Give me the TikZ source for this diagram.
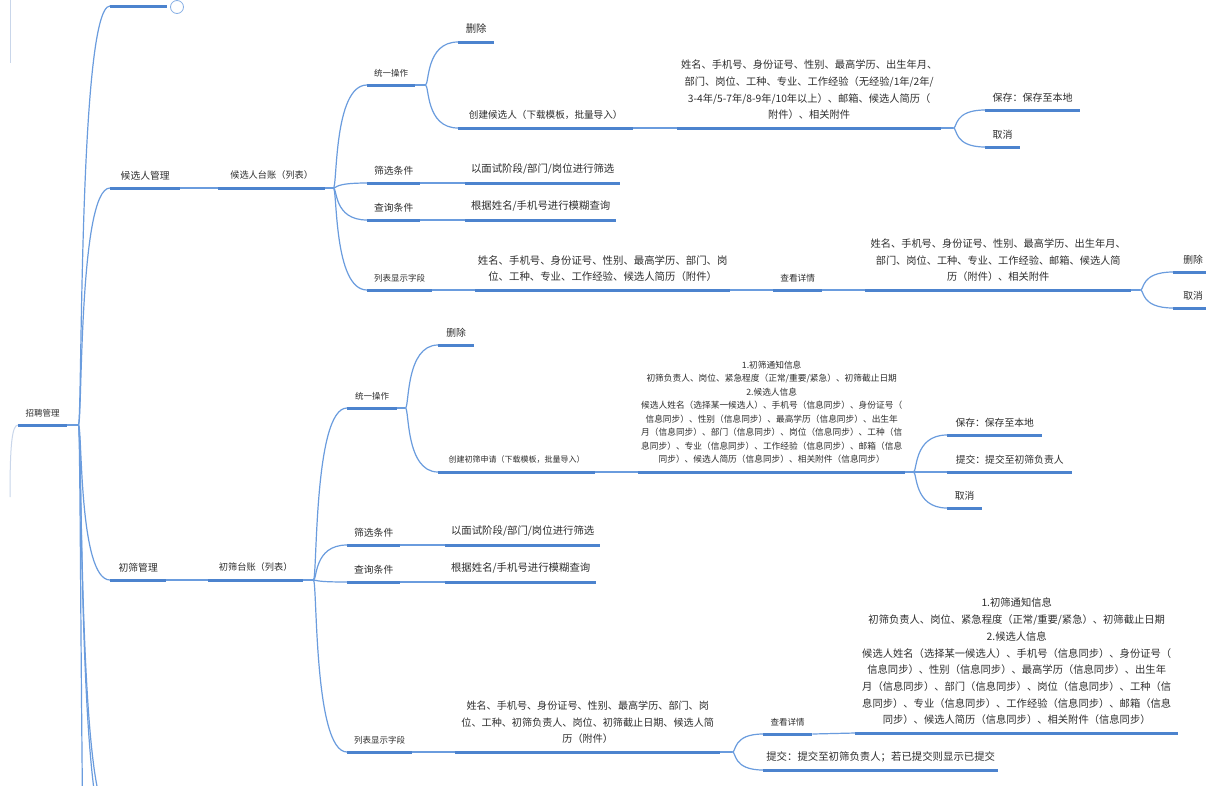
\documentclass[tikz,border=0pt]{standalone}
\usepackage{fontspec}
\setmainfont{Noto Sans CJK SC}
\usetikzlibrary{calc}
\definecolor{uline}{HTML}{4C83CE}
\definecolor{cline}{HTML}{6A9CDE}
\definecolor{txt}{HTML}{2E2E2E}
\definecolor{faint}{HTML}{C9D6EA}
\tikzset{
  topic/.style={anchor=south west, inner xsep=0pt, inner ysep=8pt, align=center, text=txt},
  fa/.style={font=\fontsize{10.4}{16.7}\selectfont},
  fb/.style={font=\fontsize{9.8}{15.6}\selectfont},
  fe/.style={font=\fontsize{9.2}{15}\selectfont},
  fc/.style={font=\fontsize{8.5}{13.5}\selectfont},
  fd/.style={font=\fontsize{8.7}{13.5}\selectfont},
  ul/.style={draw=uline, line width=3pt},
  conn/.style={draw=cline, line width=1.2pt},
  faintl/.style={draw=faint, line width=1pt},
  br/.style={to path={.. controls +(4,0) and (\tikztostart |- \tikztotarget) .. (\tikztotarget)}},
}
\begin{document}
\begin{tikzpicture}[x=1pt,y=-1pt]
\useasboundingbox (0,0) rectangle (1206,785);
\fill[white] (0,0) rectangle (1206,785);
\clip (0,0) rectangle (1206,785);

% ---------- nodes ----------
\node[topic,fc,minimum width=49] (r) at (18,425) {招聘管理};
\node[topic,fb,minimum width=70] (a1) at (110,188) {候选人管理};
\node[topic,fb,minimum width=56] (a2) at (110,580) {初筛管理};

% candidate section
\node[topic,fe,minimum width=107] (b1) at (218,188) {候选人台账（列表）};
\node[topic,fc,minimum width=48] (c1) at (367,85) {统一操作};
\node[topic,fb,minimum width=53] (c2) at (367,183) {筛选条件};
\node[topic,fb,minimum width=53] (c3) at (367,220) {查询条件};
\node[topic,fc,minimum width=65] (c4) at (367,290) {列表显示字段};
\node[topic,fa,minimum width=36] (d1) at (458,42) {删除};
\node[topic,font=\fontsize{9.6}{15}\selectfont,minimum width=175] (d2) at (458,128) {创建候选人（下载模板，批量导入）};
\node[topic,font=\fontsize{10.25}{16.7}\selectfont,minimum width=264] (e1) at (677,128)
  {姓名、手机号、身份证号、性别、最高学历、出生年月、\\部门、岗位、工种、专业、工作经验（无经验/1年/2年/\\3-4年/5-7年/8-9年/10年以上）、邮箱、候选人简历（\\附件）、相关附件};
\node[topic,font=\fontsize{10}{15}\selectfont,minimum width=95] (f1) at (985,110) {保存：保存至本地};
\node[topic,font=\fontsize{10}{15}\selectfont,minimum width=35] (f2) at (985,147) {取消};
\node[topic,fa,minimum width=155] (d3) at (465,183) {以面试阶段/部门/岗位进行筛选};
\node[topic,fa,minimum width=151] (d4) at (465,220) {根据姓名/手机号进行模糊查询};
\node[topic,fa,minimum width=255] (d5) at (475,290)
  {姓名、手机号、身份证号、性别、最高学历、部门、岗\\位、工种、专业、工作经验、候选人简历（附件）};
\node[topic,fd,minimum width=49] (g1) at (773,290) {查看详情};
\node[topic,font=\fontsize{10.2}{16.7}\selectfont,minimum width=266] (g2) at (865,290)
  {姓名、手机号、身份证号、性别、最高学历、出生年月、\\部门、岗位、工种、专业、工作经验、邮箱、候选人简\\历（附件）、相关附件};
\node[topic,fb,minimum width=40] (h1) at (1173,272) {删除};
\node[topic,fb,minimum width=40] (h2) at (1173,308) {取消};

% screening section
\node[topic,fe,minimum width=95] (b2) at (208,580) {初筛台账（列表）};
\node[topic,fc,minimum width=50] (c5) at (347,408) {统一操作};
\node[topic,fb,minimum width=53] (c6) at (347,545) {筛选条件};
\node[topic,fb,minimum width=53] (c7) at (347,582) {查询条件};
\node[topic,fc,minimum width=65] (c8) at (347,752) {列表显示字段};
\node[topic,fb,minimum width=36] (d6) at (438,345) {删除};
\node[topic,font=\fontsize{8}{13}\selectfont,minimum width=157] (d7) at (438,472) {创建初筛申请（下载模板，批量导入）};
\node[topic,fd,minimum width=267] (e2) at (638,472)
  {1.初筛通知信息\\初筛负责人、岗位、紧急程度（正常/重要/紧急）、初筛截止日期\\2.候选人信息\\候选人姓名（选择某一候选人）、手机号（信息同步）、身份证号（\\信息同步）、性别（信息同步）、最高学历（信息同步）、出生年\\月（信息同步）、部门（信息同步）、岗位（信息同步）、工种（信\\息同步）、专业（信息同步）、工作经验（信息同步）、邮箱（信息\\同步）、候选人简历（信息同步）、相关附件（信息同步）};
\node[topic,fb,minimum width=95] (f3) at (947,435) {保存：保存至本地};
\node[topic,fb,minimum width=125] (f4) at (947,472) {提交：提交至初筛负责人};
\node[topic,fb,minimum width=35] (f5) at (947,508) {取消};
\node[topic,fa,minimum width=155] (d8) at (445,545) {以面试阶段/部门/岗位进行筛选};
\node[topic,fa,minimum width=151] (d9) at (445,582) {根据姓名/手机号进行模糊查询};
\node[topic,font=\fontsize{10.1}{16.7}\selectfont,minimum width=265] (d10) at (455,752)
  {姓名、手机号、身份证号、性别、最高学历、部门、岗\\位、工种、初筛负责人、岗位、初筛截止日期、候选人简\\历（附件）};
\node[topic,fc,minimum width=49] (g3) at (763,734) {查看详情};
\node[topic,fa,minimum width=235] (g4) at (763,770) {提交：提交至初筛负责人；若已提交则显示已提交};
\node[topic,font=\fontsize{10.3}{16.7}\selectfont,minimum width=323] (g5) at (855,733)
  {1.初筛通知信息\\初筛负责人、岗位、紧急程度（正常/重要/紧急）、初筛截止日期\\2.候选人信息\\候选人姓名（选择某一候选人）、手机号（信息同步）、身份证号（\\信息同步）、性别（信息同步）、最高学历（信息同步）、出生年\\月（信息同步）、部门（信息同步）、岗位（信息同步）、工种（信\\息同步）、专业（信息同步）、工作经验（信息同步）、邮箱（信息\\同步）、候选人简历（信息同步）、相关附件（信息同步）};

% ---------- coordinates ----------
\coordinate (rb) at ($(r.south east)+(11,0)$);
\coordinate (topl) at (110,6);
\coordinate (topr) at (167,6);
\node[circle,draw=cline!80,line width=0.8pt,minimum size=13pt,inner sep=0pt] (col) at (177,7) {};
\coordinate (off1) at (110,815);
\coordinate (off2) at (110,840);
\coordinate (off3) at (110,1400);
\coordinate (lt1) at (10,0);
\coordinate (lt2) at (10,63);
\coordinate (lp) at (10,497);

\coordinate (bb1) at ($(b1.south east)+(8,0)$);
\coordinate (cb1) at ($(c1.south east)+(10,0)$);
\coordinate (eb1) at ($(e1.south east)+(12,0)$);
\coordinate (gb)  at ($(g2.south east)+(9,0)$);
\coordinate (bb2) at ($(b2.south east)+(10,0)$);
\coordinate (cb2) at ($(c5.south east)+(8,0)$);
\coordinate (eb2) at ($(e2.south east)+(8,0)$);
\coordinate (db)  at ($(d10.south east)+(12,0)$);

% ---------- faint outer lines ----------
\draw[faintl] (lt1) -- (lt2);
\draw[faintl] (lp) .. controls (10,445) and (12,425) .. (r.south west);

% ---------- connectors ----------
\draw[conn] (r.south east) -- (rb);
\foreach \t in {topl,a1.south west,a2.south west,off1,off2,off3}
  \draw[conn] (rb) to[br] (\t);
\draw[conn] (topl) -- (topr);
\draw[conn] (a1.south east) -- (b1.south west);
\draw[conn] (a2.south east) -- (b2.south west);

\draw[conn] (b1.south east) -- (bb1);
\foreach \t in {c1,c2,c3,c4} \draw[conn] (bb1) to[br] (\t.south west);
\draw[conn] (c1.south east) -- (cb1);
\foreach \t in {d1,d2} \draw[conn] (cb1) to[br] (\t.south west);
\draw[conn] (d2.south east) -- (e1.south west);
\draw[conn] (e1.south east) -- (eb1);
\foreach \t in {f1,f2} \draw[conn] (eb1) to[br] (\t.south west);
\draw[conn] (c2.south east) -- (d3.south west);
\draw[conn] (c3.south east) -- (d4.south west);
\draw[conn] (c4.south east) -- (d5.south west);
\draw[conn] (d5.south east) -- (g1.south west);
\draw[conn] (g1.south east) -- (g2.south west);
\draw[conn] (g2.south east) -- (gb);
\foreach \t in {h1,h2} \draw[conn] (gb) to[br] (\t.south west);

\draw[conn] (b2.south east) -- (bb2);
\foreach \t in {c5,c6,c7,c8} \draw[conn] (bb2) to[br] (\t.south west);
\draw[conn] (c5.south east) -- (cb2);
\foreach \t in {d6,d7} \draw[conn] (cb2) to[br] (\t.south west);
\draw[conn] (d7.south east) -- (e2.south west);
\draw[conn] (e2.south east) -- (eb2);
\foreach \t in {f3,f4,f5} \draw[conn] (eb2) to[br] (\t.south west);
\draw[conn] (c6.south east) -- (d8.south west);
\draw[conn] (c7.south east) -- (d9.south west);
\draw[conn] (c8.south east) -- (d10.south west);
\draw[conn] (d10.south east) -- (db);
\foreach \t in {g3,g4} \draw[conn] (db) to[br] (\t.south west);
\draw[conn] (g3.south east) -- (g5.south west);

% ---------- underlines ----------
\draw[ul] (topl) -- (topr);
\foreach \n in {r,a1,a2,b1,c1,c2,c3,c4,d1,d2,e1,f1,f2,d3,d4,d5,g1,g2,h1,h2,
                b2,c5,c6,c7,c8,d6,d7,e2,f3,f4,f5,d8,d9,d10,g3,g4,g5}
  \draw[ul] (\n.south west) -- (\n.south east);
\end{tikzpicture}
\end{document}
